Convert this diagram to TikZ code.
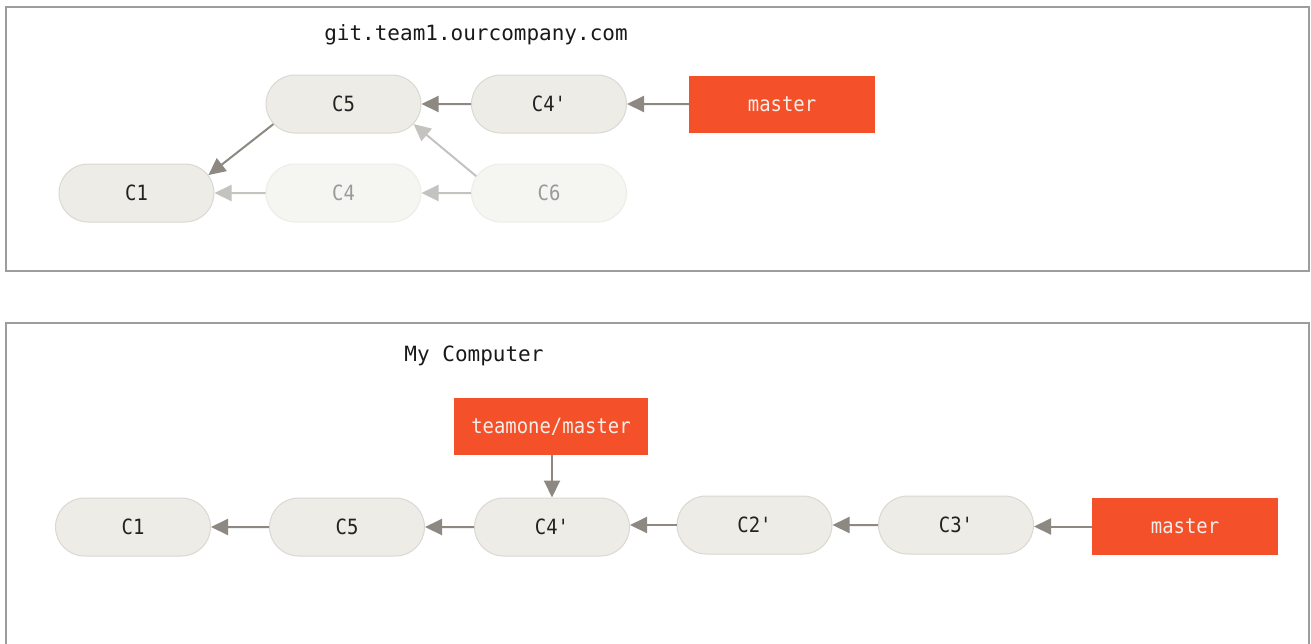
\documentclass[tikz,border=0pt]{standalone}
\usepackage{fontspec}
\usetikzlibrary{arrows.meta,shapes.misc}
\newfontfamily\titlefont{DejaVu Sans Mono}
\newfontfamily\labelfont[FakeStretch=0.9]{DejaVu Sans Mono}
\definecolor{commitfill}{HTML}{EDECE6}
\definecolor{commitdraw}{HTML}{DAD8D2}
\definecolor{fadefill}{HTML}{F5F5F1}
\definecolor{fadedraw}{HTML}{EDEDE8}
\definecolor{fadetext}{HTML}{9A9A9A}
\definecolor{arrowcol}{HTML}{8D8882}
\definecolor{fadearrow}{HTML}{C4C3BF}
\definecolor{branchcol}{HTML}{F4502A}
\definecolor{branchtext}{HTML}{F3EEE8}
\definecolor{framecol}{HTML}{9D9D9D}
\definecolor{textcol}{HTML}{222222}
\tikzset{
  commit/.style={rounded rectangle, minimum width=155pt, minimum height=58pt,
    fill=commitfill, draw=commitdraw, line width=1pt, text=textcol,
    font=\labelfont\fontsize{21}{25}\selectfont, inner sep=0pt},
  fadecommit/.style={commit, fill=fadefill, draw=fadedraw, text=fadetext},
  branch/.style={rectangle, minimum height=57pt, fill=branchcol, draw=none,
    text=branchtext, font=\labelfont\fontsize{21}{25}\selectfont, inner sep=0pt},
  title/.style={font=\titlefont\fontsize{21}{25}\selectfont, text=black!90},
  link/.style={draw=arrowcol, line width=2pt, -{Triangle[length=17pt,width=16pt]}},
  fadelink/.style={link, draw=fadearrow},
  frame/.style={draw=framecol, line width=2pt}
}
\begin{document}
\begin{tikzpicture}[x=1pt,y=-1pt]
\useasboundingbox (0,0) rectangle (1311,643);
\fill[white] (0,0) rectangle (1311,643);
% frames
\draw[frame] (6,7) rectangle (1309,271);
\draw[frame] (6,660) -- (6,323) -- (1309,323) -- (1309,660);
% titles
\node[title] (t1) at (476,35) {git.team1.ourcompany.com};
\node[title] (t2) at (474,356) {My Computer};
% top graph
\node[commit] (a5) at (343.5,104) {C5};
\node[commit] (a4p) at (549,104) {C4'};
\node[branch, minimum width=186pt] (am) at (782,104) {master};
\node[commit] (a1) at (136.5,193) {C1};
\node[fadecommit] (a4) at (343.5,193) {C4};
\node[fadecommit] (a6) at (549,193) {C6};
\draw[fadelink] (a4) -- (a1);
\draw[fadelink] (a6) -- (a4);
\draw[fadelink] (a6.167) -- (a5.-16);
\draw[link] (a5.196) -- (a1.14);
\draw[link] (a4p) -- (a5);
\draw[link] (am) -- (a4p);
% bottom graph
\node[branch, minimum width=194pt] (btm) at (551,426.5) {teamone/master};
\node[commit] (b1) at (133,527) {C1};
\node[commit] (b5) at (347,527) {C5};
\node[commit] (b4p) at (552,527) {C4'};
\node[commit] (b2p) at (754.5,525) {C2'};
\node[commit] (b3p) at (956,525) {C3'};
\node[branch, minimum width=186pt] (bm) at (1185,526.5) {master};
\draw[link] (b5) -- (b1);
\draw[link] (b4p) -- (b5);
\draw[link] (b2p.west) -- (b2p.west -| b4p.east);
\draw[link] (b3p) -- (b2p);
\draw[link] (bm.west) -- (bm.west -| b3p.east);
\draw[link] (btm.south -| b4p.north) -- (b4p.north);
\end{tikzpicture}
\end{document}
